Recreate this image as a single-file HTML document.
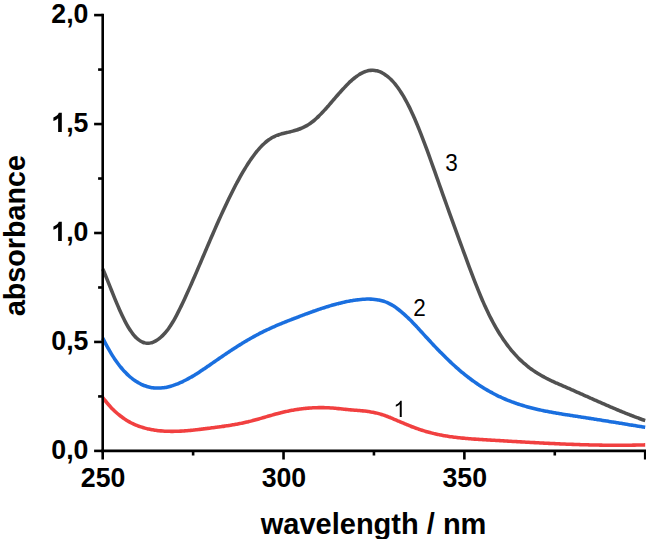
<!DOCTYPE html>
<html><head><meta charset="utf-8"><style>
html,body{margin:0;padding:0;background:#fff;overflow:hidden}
svg{display:block}
text{font-family:"Liberation Sans",sans-serif;fill:#000}
.b{font-weight:bold;font-size:26.7px}
.t{font-weight:bold;font-size:29px}
.ty{font-weight:bold;font-size:28.7px}
.n{font-size:22.5px}
</style></head><body>
<svg width="646" height="539" viewBox="0 0 646 539">
<rect width="646" height="539" fill="#fff"/>
<path d="M102.80,269.04 C103.13,269.83 104.13,272.19 104.80,273.79 C105.47,275.40 106.13,277.03 106.80,278.67 C107.47,280.31 108.13,281.97 108.80,283.63 C109.47,285.29 110.13,286.97 110.80,288.63 C111.47,290.29 112.13,291.96 112.80,293.61 C113.47,295.27 114.13,296.92 114.80,298.55 C115.47,300.17 116.13,301.79 116.80,303.38 C117.47,304.97 118.13,306.54 118.80,308.07 C119.47,309.60 120.13,311.11 120.80,312.57 C121.47,314.03 122.13,315.46 122.80,316.84 C123.47,318.22 124.13,319.56 124.80,320.84 C125.47,322.13 126.13,323.37 126.80,324.56 C127.47,325.75 128.13,326.89 128.80,327.97 C129.47,329.06 130.13,330.09 130.80,331.07 C131.47,332.04 132.13,332.96 132.80,333.82 C133.47,334.69 134.13,335.49 134.80,336.23 C135.47,336.97 136.13,337.65 136.80,338.27 C137.47,338.89 138.13,339.45 138.80,339.94 C139.47,340.44 140.13,340.88 140.80,341.26 C141.47,341.64 142.13,341.97 142.80,342.24 C143.47,342.50 144.13,342.71 144.80,342.87 C145.47,343.03 146.13,343.14 146.80,343.19 C147.47,343.24 148.13,343.24 148.80,343.19 C149.47,343.14 150.13,343.04 150.80,342.89 C151.47,342.75 152.13,342.55 152.80,342.31 C153.47,342.06 154.13,341.77 154.80,341.44 C155.47,341.10 156.13,340.72 156.80,340.30 C157.47,339.88 158.13,339.41 158.80,338.90 C159.47,338.40 160.13,337.85 160.80,337.26 C161.47,336.68 162.13,336.05 162.80,335.38 C163.47,334.71 164.13,334.01 164.80,333.25 C165.47,332.50 166.13,331.71 166.80,330.87 C167.47,330.03 168.13,329.14 168.80,328.21 C169.47,327.27 170.13,326.29 170.80,325.26 C171.47,324.23 172.13,323.15 172.80,322.03 C173.47,320.91 174.13,319.74 174.80,318.54 C175.47,317.33 176.13,316.09 176.80,314.82 C177.47,313.54 178.13,312.24 178.80,310.91 C179.47,309.58 180.13,308.22 180.80,306.85 C181.47,305.47 182.13,304.08 182.80,302.67 C183.47,301.26 184.13,299.84 184.80,298.40 C185.47,296.96 186.13,295.51 186.80,294.05 C187.47,292.58 188.13,291.10 188.80,289.62 C189.47,288.13 190.13,286.63 190.80,285.12 C191.47,283.61 192.13,282.10 192.80,280.57 C193.47,279.05 194.13,277.51 194.80,275.97 C195.47,274.43 196.13,272.88 196.80,271.33 C197.47,269.78 198.13,268.23 198.80,266.67 C199.47,265.11 200.13,263.54 200.80,261.98 C201.47,260.41 202.13,258.85 202.80,257.28 C203.47,255.71 204.13,254.14 204.80,252.58 C205.47,251.01 206.13,249.45 206.80,247.88 C207.47,246.32 208.13,244.76 208.80,243.21 C209.47,241.65 210.13,240.10 210.80,238.55 C211.47,237.01 212.13,235.47 212.80,233.93 C213.47,232.40 214.13,230.87 214.80,229.35 C215.47,227.83 216.13,226.31 216.80,224.81 C217.47,223.30 218.13,221.81 218.80,220.32 C219.47,218.83 220.13,217.35 220.80,215.88 C221.47,214.41 222.13,212.95 222.80,211.51 C223.47,210.06 224.13,208.62 224.80,207.19 C225.47,205.77 226.13,204.35 226.80,202.95 C227.47,201.55 228.13,200.16 228.80,198.79 C229.47,197.41 230.13,196.05 230.80,194.70 C231.47,193.36 232.13,192.02 232.80,190.71 C233.47,189.39 234.13,188.09 234.80,186.80 C235.47,185.51 236.13,184.24 236.80,182.99 C237.47,181.74 238.13,180.50 238.80,179.29 C239.47,178.07 240.13,176.87 240.80,175.69 C241.47,174.51 242.13,173.35 242.80,172.21 C243.47,171.07 244.13,169.95 244.80,168.84 C245.47,167.74 246.13,166.66 246.80,165.61 C247.47,164.55 248.13,163.51 248.80,162.50 C249.47,161.48 250.13,160.49 250.80,159.52 C251.47,158.55 252.13,157.61 252.80,156.69 C253.47,155.77 254.13,154.87 254.80,154.00 C255.47,153.13 256.13,152.29 256.80,151.47 C257.47,150.65 258.13,149.86 258.80,149.09 C259.47,148.32 260.13,147.58 260.80,146.87 C261.47,146.16 262.13,145.48 262.80,144.83 C263.47,144.17 264.13,143.55 264.80,142.95 C265.47,142.36 266.13,141.79 266.80,141.26 C267.47,140.72 268.13,140.22 268.80,139.74 C269.47,139.27 270.13,138.83 270.80,138.42 C271.47,138.01 272.13,137.63 272.80,137.28 C273.47,136.93 274.13,136.61 274.80,136.30 C275.47,136.00 276.13,135.72 276.80,135.46 C277.47,135.20 278.13,134.97 278.80,134.74 C279.47,134.52 280.13,134.31 280.80,134.12 C281.47,133.92 282.13,133.74 282.80,133.56 C283.47,133.39 284.13,133.22 284.80,133.06 C285.47,132.90 286.13,132.74 286.80,132.59 C287.47,132.43 288.13,132.28 288.80,132.12 C289.47,131.96 290.13,131.80 290.80,131.63 C291.47,131.47 292.13,131.30 292.80,131.12 C293.47,130.94 294.13,130.76 294.80,130.56 C295.47,130.37 296.13,130.16 296.80,129.95 C297.47,129.73 298.13,129.50 298.80,129.26 C299.47,129.02 300.13,128.77 300.80,128.50 C301.47,128.23 302.13,127.94 302.80,127.64 C303.47,127.33 304.13,127.01 304.80,126.67 C305.47,126.33 306.13,125.97 306.80,125.59 C307.47,125.20 308.13,124.80 308.80,124.37 C309.47,123.94 310.13,123.49 310.80,123.01 C311.47,122.53 312.13,122.02 312.80,121.49 C313.47,120.96 314.13,120.41 314.80,119.83 C315.47,119.26 316.13,118.66 316.80,118.04 C317.47,117.42 318.13,116.78 318.80,116.13 C319.47,115.48 320.13,114.81 320.80,114.12 C321.47,113.43 322.13,112.73 322.80,112.02 C323.47,111.31 324.13,110.58 324.80,109.84 C325.47,109.11 326.13,108.36 326.80,107.61 C327.47,106.86 328.13,106.09 328.80,105.33 C329.47,104.56 330.13,103.79 330.80,103.02 C331.47,102.24 332.13,101.46 332.80,100.69 C333.47,99.91 334.13,99.13 334.80,98.35 C335.47,97.58 336.13,96.80 336.80,96.03 C337.47,95.26 338.13,94.49 338.80,93.73 C339.47,92.97 340.13,92.21 340.80,91.47 C341.47,90.72 342.13,89.99 342.80,89.26 C343.47,88.54 344.13,87.82 344.80,87.12 C345.47,86.42 346.13,85.72 346.80,85.05 C347.47,84.37 348.13,83.71 348.80,83.07 C349.47,82.42 350.13,81.79 350.80,81.18 C351.47,80.58 352.13,79.98 352.80,79.41 C353.47,78.84 354.13,78.29 354.80,77.76 C355.47,77.24 356.13,76.73 356.80,76.25 C357.47,75.77 358.13,75.31 358.80,74.88 C359.47,74.45 360.13,74.04 360.80,73.67 C361.47,73.29 362.13,72.94 362.80,72.62 C363.47,72.30 364.13,72.01 364.80,71.76 C365.47,71.50 366.13,71.28 366.80,71.09 C367.47,70.90 368.13,70.74 368.80,70.62 C369.47,70.50 370.13,70.41 370.80,70.36 C371.47,70.31 372.13,70.29 372.80,70.31 C373.47,70.33 374.13,70.38 374.80,70.47 C375.47,70.55 376.13,70.67 376.80,70.83 C377.47,70.99 378.13,71.18 378.80,71.41 C379.47,71.63 380.13,71.90 380.80,72.19 C381.47,72.49 382.13,72.82 382.80,73.19 C383.47,73.56 384.13,73.97 384.80,74.41 C385.47,74.85 386.13,75.32 386.80,75.83 C387.47,76.34 388.13,76.89 388.80,77.48 C389.47,78.06 390.13,78.68 390.80,79.34 C391.47,79.99 392.13,80.69 392.80,81.42 C393.47,82.15 394.13,82.91 394.80,83.72 C395.47,84.52 396.13,85.36 396.80,86.24 C397.47,87.12 398.13,88.03 398.80,88.98 C399.47,89.93 400.13,90.92 400.80,91.95 C401.47,92.98 402.13,94.04 402.80,95.14 C403.47,96.24 404.13,97.38 404.80,98.56 C405.47,99.74 406.13,100.95 406.80,102.21 C407.47,103.46 408.13,104.75 408.80,106.08 C409.47,107.41 410.13,108.78 410.80,110.19 C411.47,111.59 412.13,113.04 412.80,114.51 C413.47,115.99 414.13,117.50 414.80,119.04 C415.47,120.58 416.13,122.15 416.80,123.75 C417.47,125.34 418.13,126.97 418.80,128.62 C419.47,130.27 420.13,131.95 420.80,133.65 C421.47,135.35 422.13,137.07 422.80,138.81 C423.47,140.55 424.13,142.31 424.80,144.09 C425.47,145.87 426.13,147.66 426.80,149.47 C427.47,151.28 428.13,153.10 428.80,154.94 C429.47,156.77 430.13,158.62 430.80,160.48 C431.47,162.33 432.13,164.20 432.80,166.07 C433.47,167.94 434.13,169.82 434.80,171.70 C435.47,173.58 436.13,175.47 436.80,177.36 C437.47,179.25 438.13,181.14 438.80,183.03 C439.47,184.91 440.13,186.80 440.80,188.68 C441.47,190.57 442.13,192.45 442.80,194.32 C443.47,196.20 444.13,198.06 444.80,199.93 C445.47,201.79 446.13,203.65 446.80,205.50 C447.47,207.36 448.13,209.21 448.80,211.06 C449.47,212.90 450.13,214.75 450.80,216.59 C451.47,218.43 452.13,220.26 452.80,222.10 C453.47,223.93 454.13,225.77 454.80,227.60 C455.47,229.43 456.13,231.25 456.80,233.08 C457.47,234.91 458.13,236.73 458.80,238.56 C459.47,240.38 460.13,242.21 460.80,244.03 C461.47,245.85 462.13,247.68 462.80,249.50 C463.47,251.32 464.13,253.15 464.80,254.96 C465.47,256.78 466.13,258.60 466.80,260.40 C467.47,262.21 468.13,264.02 468.80,265.81 C469.47,267.60 470.13,269.39 470.80,271.16 C471.47,272.93 472.13,274.69 472.80,276.44 C473.47,278.18 474.13,279.92 474.80,281.63 C475.47,283.34 476.13,285.04 476.80,286.72 C477.47,288.39 478.13,290.05 478.80,291.68 C479.47,293.32 480.13,294.93 480.80,296.51 C481.47,298.10 482.13,299.66 482.80,301.19 C483.47,302.72 484.13,304.23 484.80,305.70 C485.47,307.17 486.13,308.62 486.80,310.03 C487.47,311.44 488.13,312.83 488.80,314.18 C489.47,315.54 490.13,316.86 490.80,318.16 C491.47,319.46 492.13,320.73 492.80,321.98 C493.47,323.22 494.13,324.43 494.80,325.63 C495.47,326.82 496.13,327.98 496.80,329.12 C497.47,330.25 498.13,331.37 498.80,332.45 C499.47,333.54 500.13,334.60 500.80,335.64 C501.47,336.68 502.13,337.69 502.80,338.69 C503.47,339.68 504.13,340.64 504.80,341.59 C505.47,342.54 506.13,343.46 506.80,344.36 C507.47,345.26 508.13,346.14 508.80,347.00 C509.47,347.86 510.13,348.69 510.80,349.51 C511.47,350.33 512.13,351.12 512.80,351.90 C513.47,352.68 514.13,353.44 514.80,354.18 C515.47,354.92 516.13,355.64 516.80,356.34 C517.47,357.04 518.13,357.73 518.80,358.40 C519.47,359.06 520.13,359.71 520.80,360.35 C521.47,360.98 522.13,361.60 522.80,362.20 C523.47,362.81 524.13,363.39 524.80,363.96 C525.47,364.54 526.13,365.09 526.80,365.64 C527.47,366.18 528.13,366.71 528.80,367.23 C529.47,367.74 530.13,368.25 530.80,368.74 C531.47,369.23 532.13,369.70 532.80,370.17 C533.47,370.64 534.13,371.09 534.80,371.53 C535.47,371.98 536.13,372.41 536.80,372.83 C537.47,373.26 538.13,373.67 538.80,374.07 C539.47,374.47 540.13,374.87 540.80,375.25 C541.47,375.64 542.13,376.01 542.80,376.38 C543.47,376.75 544.13,377.11 544.80,377.46 C545.47,377.82 546.13,378.16 546.80,378.51 C547.47,378.85 548.13,379.18 548.80,379.51 C549.47,379.84 550.13,380.16 550.80,380.48 C551.47,380.80 552.13,381.11 552.80,381.42 C553.47,381.73 554.13,382.03 554.80,382.34 C555.47,382.64 556.13,382.94 556.80,383.23 C557.47,383.53 558.13,383.82 558.80,384.12 C559.47,384.41 560.13,384.70 560.80,384.99 C561.47,385.28 562.13,385.57 562.80,385.86 C563.47,386.15 564.13,386.44 564.80,386.73 C565.47,387.02 566.13,387.31 566.80,387.60 C567.47,387.89 568.13,388.18 568.80,388.47 C569.47,388.77 570.13,389.06 570.80,389.35 C571.47,389.65 572.13,389.94 572.80,390.24 C573.47,390.53 574.13,390.83 574.80,391.12 C575.47,391.42 576.13,391.71 576.80,392.01 C577.47,392.30 578.13,392.60 578.80,392.90 C579.47,393.19 580.13,393.49 580.80,393.79 C581.47,394.09 582.13,394.38 582.80,394.68 C583.47,394.98 584.13,395.28 584.80,395.57 C585.47,395.87 586.13,396.17 586.80,396.47 C587.47,396.76 588.13,397.06 588.80,397.36 C589.47,397.65 590.13,397.95 590.80,398.25 C591.47,398.55 592.13,398.84 592.80,399.14 C593.47,399.44 594.13,399.73 594.80,400.03 C595.47,400.32 596.13,400.62 596.80,400.91 C597.47,401.21 598.13,401.50 598.80,401.80 C599.47,402.09 600.13,402.39 600.80,402.68 C601.47,402.97 602.13,403.27 602.80,403.56 C603.47,403.85 604.13,404.14 604.80,404.43 C605.47,404.72 606.13,405.01 606.80,405.30 C607.47,405.59 608.13,405.88 608.80,406.17 C609.47,406.46 610.13,406.74 610.80,407.03 C611.47,407.31 612.13,407.60 612.80,407.88 C613.47,408.17 614.13,408.45 614.80,408.73 C615.47,409.01 616.13,409.29 616.80,409.57 C617.47,409.85 618.13,410.13 618.80,410.41 C619.47,410.69 620.13,410.96 620.80,411.24 C621.47,411.51 622.13,411.79 622.80,412.06 C623.47,412.33 624.13,412.60 624.80,412.87 C625.47,413.14 626.13,413.41 626.80,413.68 C627.47,413.94 628.13,414.21 628.80,414.47 C629.47,414.73 630.13,415.00 630.80,415.26 C631.47,415.52 632.13,415.77 632.80,416.03 C633.47,416.29 634.13,416.54 634.80,416.80 C635.47,417.05 636.13,417.30 636.80,417.55 C637.47,417.80 638.13,418.05 638.80,418.29 C639.47,418.54 640.13,418.78 640.80,419.02 C641.47,419.27 642.13,419.51 642.80,419.74 C643.47,419.98 644.40,420.31 644.80,420.45 C645.20,420.59 645.13,420.57 645.20,420.59" fill="none" stroke="#515151" stroke-width="3.55" stroke-linejoin="round"/>
<path d="M102.80,338.13 C103.13,338.79 104.13,340.81 104.80,342.10 C105.47,343.40 106.13,344.66 106.80,345.89 C107.47,347.11 108.13,348.31 108.80,349.48 C109.47,350.64 110.13,351.78 110.80,352.88 C111.47,353.99 112.13,355.06 112.80,356.11 C113.47,357.15 114.13,358.17 114.80,359.15 C115.47,360.14 116.13,361.10 116.80,362.02 C117.47,362.95 118.13,363.85 118.80,364.72 C119.47,365.59 120.13,366.44 120.80,367.25 C121.47,368.07 122.13,368.86 122.80,369.62 C123.47,370.38 124.13,371.11 124.80,371.82 C125.47,372.53 126.13,373.21 126.80,373.87 C127.47,374.53 128.13,375.16 128.80,375.76 C129.47,376.37 130.13,376.95 130.80,377.50 C131.47,378.06 132.13,378.59 132.80,379.10 C133.47,379.61 134.13,380.09 134.80,380.55 C135.47,381.01 136.13,381.45 136.80,381.86 C137.47,382.28 138.13,382.67 138.80,383.04 C139.47,383.41 140.13,383.76 140.80,384.08 C141.47,384.41 142.13,384.71 142.80,384.99 C143.47,385.28 144.13,385.54 144.80,385.78 C145.47,386.02 146.13,386.24 146.80,386.45 C147.47,386.65 148.13,386.83 148.80,386.99 C149.47,387.16 150.13,387.30 150.80,387.42 C151.47,387.55 152.13,387.65 152.80,387.74 C153.47,387.83 154.13,387.90 154.80,387.95 C155.47,388.01 156.13,388.04 156.80,388.06 C157.47,388.08 158.13,388.08 158.80,388.07 C159.47,388.05 160.13,388.02 160.80,387.97 C161.47,387.93 162.13,387.86 162.80,387.79 C163.47,387.71 164.13,387.62 164.80,387.51 C165.47,387.40 166.13,387.28 166.80,387.15 C167.47,387.01 168.13,386.86 168.80,386.70 C169.47,386.54 170.13,386.36 170.80,386.17 C171.47,385.98 172.13,385.78 172.80,385.57 C173.47,385.35 174.13,385.13 174.80,384.89 C175.47,384.65 176.13,384.41 176.80,384.15 C177.47,383.89 178.13,383.62 178.80,383.33 C179.47,383.05 180.13,382.76 180.80,382.46 C181.47,382.16 182.13,381.85 182.80,381.53 C183.47,381.21 184.13,380.88 184.80,380.54 C185.47,380.20 186.13,379.86 186.80,379.50 C187.47,379.15 188.13,378.78 188.80,378.41 C189.47,378.04 190.13,377.67 190.80,377.28 C191.47,376.90 192.13,376.51 192.80,376.11 C193.47,375.71 194.13,375.31 194.80,374.90 C195.47,374.49 196.13,374.07 196.80,373.65 C197.47,373.23 198.13,372.81 198.80,372.38 C199.47,371.95 200.13,371.51 200.80,371.08 C201.47,370.64 202.13,370.20 202.80,369.75 C203.47,369.31 204.13,368.86 204.80,368.41 C205.47,367.96 206.13,367.50 206.80,367.04 C207.47,366.59 208.13,366.13 208.80,365.67 C209.47,365.21 210.13,364.75 210.80,364.29 C211.47,363.82 212.13,363.36 212.80,362.90 C213.47,362.43 214.13,361.97 214.80,361.51 C215.47,361.04 216.13,360.58 216.80,360.12 C217.47,359.65 218.13,359.19 218.80,358.73 C219.47,358.27 220.13,357.81 220.80,357.35 C221.47,356.90 222.13,356.44 222.80,355.99 C223.47,355.53 224.13,355.08 224.80,354.63 C225.47,354.18 226.13,353.73 226.80,353.28 C227.47,352.84 228.13,352.39 228.80,351.95 C229.47,351.51 230.13,351.07 230.80,350.63 C231.47,350.19 232.13,349.76 232.80,349.32 C233.47,348.89 234.13,348.46 234.80,348.03 C235.47,347.61 236.13,347.18 236.80,346.76 C237.47,346.33 238.13,345.91 238.80,345.50 C239.47,345.08 240.13,344.67 240.80,344.25 C241.47,343.84 242.13,343.43 242.80,343.03 C243.47,342.62 244.13,342.22 244.80,341.82 C245.47,341.42 246.13,341.03 246.80,340.63 C247.47,340.24 248.13,339.85 248.80,339.47 C249.47,339.08 250.13,338.70 250.80,338.32 C251.47,337.94 252.13,337.56 252.80,337.19 C253.47,336.82 254.13,336.45 254.80,336.09 C255.47,335.73 256.13,335.37 256.80,335.01 C257.47,334.66 258.13,334.30 258.80,333.96 C259.47,333.61 260.13,333.26 260.80,332.92 C261.47,332.58 262.13,332.25 262.80,331.92 C263.47,331.59 264.13,331.26 264.80,330.94 C265.47,330.61 266.13,330.29 266.80,329.97 C267.47,329.66 268.13,329.35 268.80,329.04 C269.47,328.73 270.13,328.42 270.80,328.12 C271.47,327.81 272.13,327.51 272.80,327.22 C273.47,326.92 274.13,326.63 274.80,326.33 C275.47,326.04 276.13,325.75 276.80,325.47 C277.47,325.18 278.13,324.90 278.80,324.62 C279.47,324.34 280.13,324.06 280.80,323.78 C281.47,323.51 282.13,323.23 282.80,322.96 C283.47,322.69 284.13,322.42 284.80,322.15 C285.47,321.88 286.13,321.62 286.80,321.35 C287.47,321.09 288.13,320.82 288.80,320.56 C289.47,320.30 290.13,320.04 290.80,319.78 C291.47,319.52 292.13,319.26 292.80,319.01 C293.47,318.75 294.13,318.49 294.80,318.24 C295.47,317.98 296.13,317.73 296.80,317.48 C297.47,317.22 298.13,316.97 298.80,316.72 C299.47,316.47 300.13,316.22 300.80,315.96 C301.47,315.71 302.13,315.46 302.80,315.21 C303.47,314.96 304.13,314.71 304.80,314.46 C305.47,314.22 306.13,313.97 306.80,313.72 C307.47,313.47 308.13,313.23 308.80,312.98 C309.47,312.74 310.13,312.50 310.80,312.26 C311.47,312.01 312.13,311.77 312.80,311.53 C313.47,311.30 314.13,311.06 314.80,310.82 C315.47,310.59 316.13,310.35 316.80,310.12 C317.47,309.89 318.13,309.66 318.80,309.43 C319.47,309.20 320.13,308.98 320.80,308.75 C321.47,308.53 322.13,308.31 322.80,308.09 C323.47,307.87 324.13,307.65 324.80,307.44 C325.47,307.23 326.13,307.02 326.80,306.81 C327.47,306.60 328.13,306.39 328.80,306.19 C329.47,305.99 330.13,305.79 330.80,305.59 C331.47,305.40 332.13,305.20 332.80,305.01 C333.47,304.82 334.13,304.64 334.80,304.45 C335.47,304.27 336.13,304.09 336.80,303.91 C337.47,303.74 338.13,303.56 338.80,303.40 C339.47,303.23 340.13,303.06 340.80,302.90 C341.47,302.74 342.13,302.59 342.80,302.43 C343.47,302.28 344.13,302.13 344.80,301.99 C345.47,301.85 346.13,301.71 346.80,301.57 C347.47,301.44 348.13,301.31 348.80,301.18 C349.47,301.05 350.13,300.93 350.80,300.82 C351.47,300.70 352.13,300.59 352.80,300.49 C353.47,300.38 354.13,300.28 354.80,300.18 C355.47,300.09 356.13,300.00 356.80,299.91 C357.47,299.83 358.13,299.75 358.80,299.68 C359.47,299.60 360.13,299.53 360.80,299.47 C361.47,299.41 362.13,299.35 362.80,299.30 C363.47,299.26 364.13,299.21 364.80,299.18 C365.47,299.14 366.13,299.12 366.80,299.10 C367.47,299.09 368.13,299.08 368.80,299.08 C369.47,299.08 370.13,299.10 370.80,299.12 C371.47,299.15 372.13,299.18 372.80,299.23 C373.47,299.28 374.13,299.34 374.80,299.42 C375.47,299.49 376.13,299.58 376.80,299.68 C377.47,299.79 378.13,299.90 378.80,300.04 C379.47,300.17 380.13,300.32 380.80,300.49 C381.47,300.66 382.13,300.84 382.80,301.04 C383.47,301.24 384.13,301.46 384.80,301.70 C385.47,301.94 386.13,302.20 386.80,302.48 C387.47,302.76 388.13,303.05 388.80,303.38 C389.47,303.70 390.13,304.04 390.80,304.40 C391.47,304.76 392.13,305.15 392.80,305.56 C393.47,305.96 394.13,306.39 394.80,306.84 C395.47,307.28 396.13,307.75 396.80,308.24 C397.47,308.72 398.13,309.22 398.80,309.74 C399.47,310.26 400.13,310.80 400.80,311.35 C401.47,311.90 402.13,312.47 402.80,313.05 C403.47,313.63 404.13,314.22 404.80,314.83 C405.47,315.44 406.13,316.06 406.80,316.69 C407.47,317.32 408.13,317.97 408.80,318.62 C409.47,319.27 410.13,319.94 410.80,320.61 C411.47,321.28 412.13,321.97 412.80,322.65 C413.47,323.34 414.13,324.04 414.80,324.74 C415.47,325.44 416.13,326.15 416.80,326.87 C417.47,327.58 418.13,328.30 418.80,329.02 C419.47,329.74 420.13,330.47 420.80,331.19 C421.47,331.92 422.13,332.65 422.80,333.38 C423.47,334.11 424.13,334.84 424.80,335.58 C425.47,336.31 426.13,337.04 426.80,337.77 C427.47,338.50 428.13,339.23 428.80,339.95 C429.47,340.67 430.13,341.40 430.80,342.11 C431.47,342.83 432.13,343.55 432.80,344.26 C433.47,344.97 434.13,345.67 434.80,346.37 C435.47,347.08 436.13,347.77 436.80,348.47 C437.47,349.16 438.13,349.85 438.80,350.53 C439.47,351.22 440.13,351.90 440.80,352.58 C441.47,353.25 442.13,353.92 442.80,354.59 C443.47,355.25 444.13,355.91 444.80,356.57 C445.47,357.23 446.13,357.88 446.80,358.52 C447.47,359.17 448.13,359.81 448.80,360.45 C449.47,361.08 450.13,361.71 450.80,362.34 C451.47,362.96 452.13,363.58 452.80,364.19 C453.47,364.81 454.13,365.42 454.80,366.02 C455.47,366.62 456.13,367.22 456.80,367.81 C457.47,368.40 458.13,368.98 458.80,369.56 C459.47,370.14 460.13,370.71 460.80,371.27 C461.47,371.84 462.13,372.40 462.80,372.95 C463.47,373.50 464.13,374.05 464.80,374.59 C465.47,375.13 466.13,375.66 466.80,376.19 C467.47,376.71 468.13,377.23 468.80,377.74 C469.47,378.25 470.13,378.76 470.80,379.26 C471.47,379.75 472.13,380.24 472.80,380.73 C473.47,381.21 474.13,381.69 474.80,382.16 C475.47,382.63 476.13,383.09 476.80,383.55 C477.47,384.00 478.13,384.45 478.80,384.90 C479.47,385.34 480.13,385.78 480.80,386.20 C481.47,386.63 482.13,387.06 482.80,387.47 C483.47,387.89 484.13,388.30 484.80,388.71 C485.47,389.11 486.13,389.51 486.80,389.90 C487.47,390.29 488.13,390.67 488.80,391.05 C489.47,391.43 490.13,391.80 490.80,392.17 C491.47,392.54 492.13,392.90 492.80,393.25 C493.47,393.60 494.13,393.95 494.80,394.29 C495.47,394.64 496.13,394.97 496.80,395.30 C497.47,395.63 498.13,395.96 498.80,396.28 C499.47,396.59 500.13,396.91 500.80,397.21 C501.47,397.52 502.13,397.82 502.80,398.12 C503.47,398.42 504.13,398.71 504.80,398.99 C505.47,399.28 506.13,399.56 506.80,399.83 C507.47,400.11 508.13,400.38 508.80,400.64 C509.47,400.91 510.13,401.16 510.80,401.42 C511.47,401.67 512.13,401.92 512.80,402.17 C513.47,402.41 514.13,402.65 514.80,402.89 C515.47,403.13 516.13,403.36 516.80,403.58 C517.47,403.81 518.13,404.03 518.80,404.25 C519.47,404.47 520.13,404.68 520.80,404.89 C521.47,405.10 522.13,405.31 522.80,405.51 C523.47,405.71 524.13,405.91 524.80,406.11 C525.47,406.30 526.13,406.49 526.80,406.68 C527.47,406.86 528.13,407.05 528.80,407.23 C529.47,407.41 530.13,407.58 530.80,407.76 C531.47,407.93 532.13,408.10 532.80,408.27 C533.47,408.43 534.13,408.60 534.80,408.76 C535.47,408.92 536.13,409.07 536.80,409.23 C537.47,409.38 538.13,409.53 538.80,409.68 C539.47,409.83 540.13,409.98 540.80,410.12 C541.47,410.27 542.13,410.41 542.80,410.55 C543.47,410.68 544.13,410.82 544.80,410.96 C545.47,411.09 546.13,411.22 546.80,411.35 C547.47,411.48 548.13,411.61 548.80,411.74 C549.47,411.86 550.13,411.99 550.80,412.11 C551.47,412.23 552.13,412.35 552.80,412.47 C553.47,412.59 554.13,412.71 554.80,412.82 C555.47,412.94 556.13,413.05 556.80,413.17 C557.47,413.28 558.13,413.39 558.80,413.50 C559.47,413.62 560.13,413.72 560.80,413.83 C561.47,413.94 562.13,414.05 562.80,414.16 C563.47,414.26 564.13,414.37 564.80,414.48 C565.47,414.58 566.13,414.69 566.80,414.79 C567.47,414.90 568.13,415.00 568.80,415.10 C569.47,415.21 570.13,415.31 570.80,415.41 C571.47,415.52 572.13,415.62 572.80,415.72 C573.47,415.83 574.13,415.93 574.80,416.03 C575.47,416.13 576.13,416.24 576.80,416.34 C577.47,416.44 578.13,416.55 578.80,416.65 C579.47,416.76 580.13,416.86 580.80,416.96 C581.47,417.07 582.13,417.17 582.80,417.27 C583.47,417.38 584.13,417.48 584.80,417.59 C585.47,417.69 586.13,417.80 586.80,417.90 C587.47,418.01 588.13,418.11 588.80,418.22 C589.47,418.32 590.13,418.43 590.80,418.53 C591.47,418.64 592.13,418.74 592.80,418.85 C593.47,418.95 594.13,419.06 594.80,419.16 C595.47,419.27 596.13,419.37 596.80,419.48 C597.47,419.59 598.13,419.69 598.80,419.80 C599.47,419.90 600.13,420.01 600.80,420.12 C601.47,420.22 602.13,420.33 602.80,420.44 C603.47,420.54 604.13,420.65 604.80,420.76 C605.47,420.86 606.13,420.97 606.80,421.08 C607.47,421.18 608.13,421.29 608.80,421.40 C609.47,421.50 610.13,421.61 610.80,421.72 C611.47,421.83 612.13,421.93 612.80,422.04 C613.47,422.15 614.13,422.26 614.80,422.36 C615.47,422.47 616.13,422.58 616.80,422.69 C617.47,422.80 618.13,422.90 618.80,423.01 C619.47,423.12 620.13,423.23 620.80,423.34 C621.47,423.44 622.13,423.55 622.80,423.66 C623.47,423.77 624.13,423.88 624.80,423.99 C625.47,424.09 626.13,424.20 626.80,424.31 C627.47,424.42 628.13,424.53 628.80,424.64 C629.47,424.75 630.13,424.86 630.80,424.96 C631.47,425.07 632.13,425.18 632.80,425.29 C633.47,425.40 634.13,425.51 634.80,425.62 C635.47,425.73 636.13,425.84 636.80,425.95 C637.47,426.06 638.13,426.17 638.80,426.27 C639.47,426.38 640.13,426.49 640.80,426.60 C641.47,426.71 642.13,426.82 642.80,426.93 C643.47,427.04 644.40,427.20 644.80,427.26 C645.20,427.33 645.13,427.32 645.20,427.33" fill="none" stroke="#1A6FDF" stroke-width="3.55" stroke-linejoin="round"/>
<path d="M102.80,397.58 C103.13,398.02 104.13,399.34 104.80,400.19 C105.47,401.03 106.13,401.85 106.80,402.65 C107.47,403.44 108.13,404.22 108.80,404.97 C109.47,405.72 110.13,406.46 110.80,407.16 C111.47,407.87 112.13,408.56 112.80,409.23 C113.47,409.90 114.13,410.54 114.80,411.17 C115.47,411.79 116.13,412.40 116.80,412.99 C117.47,413.57 118.13,414.14 118.80,414.69 C119.47,415.24 120.13,415.77 120.80,416.28 C121.47,416.79 122.13,417.29 122.80,417.77 C123.47,418.24 124.13,418.70 124.80,419.14 C125.47,419.59 126.13,420.01 126.80,420.42 C127.47,420.84 128.13,421.23 128.80,421.61 C129.47,421.99 130.13,422.35 130.80,422.70 C131.47,423.05 132.13,423.39 132.80,423.71 C133.47,424.03 134.13,424.33 134.80,424.63 C135.47,424.92 136.13,425.20 136.80,425.47 C137.47,425.74 138.13,426.00 138.80,426.24 C139.47,426.48 140.13,426.71 140.80,426.94 C141.47,427.16 142.13,427.37 142.80,427.57 C143.47,427.77 144.13,427.95 144.80,428.13 C145.47,428.31 146.13,428.48 146.80,428.64 C147.47,428.80 148.13,428.95 148.80,429.10 C149.47,429.24 150.13,429.37 150.80,429.50 C151.47,429.63 152.13,429.74 152.80,429.86 C153.47,429.97 154.13,430.07 154.80,430.17 C155.47,430.27 156.13,430.36 156.80,430.45 C157.47,430.53 158.13,430.61 158.80,430.68 C159.47,430.75 160.13,430.82 160.80,430.88 C161.47,430.94 162.13,430.99 162.80,431.04 C163.47,431.09 164.13,431.13 164.80,431.17 C165.47,431.21 166.13,431.24 166.80,431.26 C167.47,431.29 168.13,431.31 168.80,431.33 C169.47,431.34 170.13,431.35 170.80,431.36 C171.47,431.36 172.13,431.37 172.80,431.36 C173.47,431.36 174.13,431.35 174.80,431.34 C175.47,431.33 176.13,431.31 176.80,431.29 C177.47,431.27 178.13,431.25 178.80,431.22 C179.47,431.19 180.13,431.16 180.80,431.12 C181.47,431.09 182.13,431.05 182.80,431.01 C183.47,430.96 184.13,430.92 184.80,430.87 C185.47,430.82 186.13,430.77 186.80,430.72 C187.47,430.66 188.13,430.60 188.80,430.55 C189.47,430.49 190.13,430.42 190.80,430.36 C191.47,430.29 192.13,430.23 192.80,430.16 C193.47,430.09 194.13,430.02 194.80,429.95 C195.47,429.87 196.13,429.80 196.80,429.72 C197.47,429.65 198.13,429.57 198.80,429.49 C199.47,429.41 200.13,429.33 200.80,429.25 C201.47,429.17 202.13,429.09 202.80,429.00 C203.47,428.92 204.13,428.84 204.80,428.75 C205.47,428.67 206.13,428.58 206.80,428.50 C207.47,428.41 208.13,428.33 208.80,428.24 C209.47,428.16 210.13,428.07 210.80,427.98 C211.47,427.90 212.13,427.81 212.80,427.73 C213.47,427.64 214.13,427.55 214.80,427.47 C215.47,427.38 216.13,427.29 216.80,427.20 C217.47,427.11 218.13,427.03 218.80,426.94 C219.47,426.85 220.13,426.75 220.80,426.66 C221.47,426.57 222.13,426.48 222.80,426.38 C223.47,426.29 224.13,426.19 224.80,426.09 C225.47,426.00 226.13,425.90 226.80,425.80 C227.47,425.70 228.13,425.59 228.80,425.49 C229.47,425.39 230.13,425.28 230.80,425.17 C231.47,425.06 232.13,424.95 232.80,424.84 C233.47,424.73 234.13,424.61 234.80,424.50 C235.47,424.38 236.13,424.26 236.80,424.14 C237.47,424.01 238.13,423.89 238.80,423.76 C239.47,423.63 240.13,423.50 240.80,423.37 C241.47,423.23 242.13,423.10 242.80,422.96 C243.47,422.82 244.13,422.67 244.80,422.53 C245.47,422.38 246.13,422.23 246.80,422.07 C247.47,421.92 248.13,421.76 248.80,421.60 C249.47,421.44 250.13,421.27 250.80,421.11 C251.47,420.94 252.13,420.76 252.80,420.59 C253.47,420.41 254.13,420.23 254.80,420.05 C255.47,419.87 256.13,419.69 256.80,419.50 C257.47,419.31 258.13,419.13 258.80,418.94 C259.47,418.75 260.13,418.55 260.80,418.36 C261.47,418.17 262.13,417.98 262.80,417.78 C263.47,417.59 264.13,417.39 264.80,417.20 C265.47,417.00 266.13,416.81 266.80,416.61 C267.47,416.42 268.13,416.22 268.80,416.03 C269.47,415.84 270.13,415.65 270.80,415.45 C271.47,415.26 272.13,415.07 272.80,414.89 C273.47,414.70 274.13,414.51 274.80,414.33 C275.47,414.15 276.13,413.97 276.80,413.79 C277.47,413.61 278.13,413.43 278.80,413.26 C279.47,413.09 280.13,412.92 280.80,412.76 C281.47,412.59 282.13,412.43 282.80,412.27 C283.47,412.12 284.13,411.96 284.80,411.81 C285.47,411.66 286.13,411.52 286.80,411.38 C287.47,411.23 288.13,411.09 288.80,410.96 C289.47,410.83 290.13,410.69 290.80,410.57 C291.47,410.44 292.13,410.32 292.80,410.20 C293.47,410.08 294.13,409.96 294.80,409.85 C295.47,409.74 296.13,409.63 296.80,409.53 C297.47,409.43 298.13,409.33 298.80,409.23 C299.47,409.14 300.13,409.05 300.80,408.96 C301.47,408.87 302.13,408.79 302.80,408.71 C303.47,408.63 304.13,408.56 304.80,408.48 C305.47,408.41 306.13,408.35 306.80,408.28 C307.47,408.22 308.13,408.16 308.80,408.11 C309.47,408.06 310.13,408.01 310.80,407.96 C311.47,407.92 312.13,407.87 312.80,407.84 C313.47,407.80 314.13,407.77 314.80,407.74 C315.47,407.71 316.13,407.69 316.80,407.67 C317.47,407.65 318.13,407.64 318.80,407.63 C319.47,407.61 320.13,407.61 320.80,407.61 C321.47,407.61 322.13,407.61 322.80,407.62 C323.47,407.62 324.13,407.64 324.80,407.65 C325.47,407.67 326.13,407.69 326.80,407.72 C327.47,407.74 328.13,407.77 328.80,407.81 C329.47,407.84 330.13,407.88 330.80,407.93 C331.47,407.97 332.13,408.02 332.80,408.08 C333.47,408.13 334.13,408.19 334.80,408.25 C335.47,408.31 336.13,408.37 336.80,408.44 C337.47,408.50 338.13,408.57 338.80,408.64 C339.47,408.71 340.13,408.78 340.80,408.85 C341.47,408.92 342.13,409.00 342.80,409.07 C343.47,409.14 344.13,409.21 344.80,409.28 C345.47,409.35 346.13,409.42 346.80,409.49 C347.47,409.56 348.13,409.62 348.80,409.69 C349.47,409.75 350.13,409.81 350.80,409.87 C351.47,409.92 352.13,409.98 352.80,410.03 C353.47,410.09 354.13,410.14 354.80,410.19 C355.47,410.25 356.13,410.30 356.80,410.35 C357.47,410.40 358.13,410.46 358.80,410.51 C359.47,410.57 360.13,410.62 360.80,410.68 C361.47,410.74 362.13,410.80 362.80,410.87 C363.47,410.94 364.13,411.01 364.80,411.08 C365.47,411.15 366.13,411.23 366.80,411.31 C367.47,411.40 368.13,411.49 368.80,411.58 C369.47,411.68 370.13,411.78 370.80,411.89 C371.47,412.00 372.13,412.12 372.80,412.24 C373.47,412.37 374.13,412.50 374.80,412.65 C375.47,412.79 376.13,412.94 376.80,413.11 C377.47,413.27 378.13,413.44 378.80,413.63 C379.47,413.81 380.13,414.01 380.80,414.21 C381.47,414.41 382.13,414.63 382.80,414.85 C383.47,415.07 384.13,415.30 384.80,415.54 C385.47,415.78 386.13,416.02 386.80,416.27 C387.47,416.52 388.13,416.78 388.80,417.04 C389.47,417.31 390.13,417.57 390.80,417.85 C391.47,418.12 392.13,418.39 392.80,418.67 C393.47,418.95 394.13,419.23 394.80,419.52 C395.47,419.80 396.13,420.09 396.80,420.37 C397.47,420.66 398.13,420.95 398.80,421.23 C399.47,421.52 400.13,421.81 400.80,422.09 C401.47,422.38 402.13,422.66 402.80,422.94 C403.47,423.23 404.13,423.51 404.80,423.79 C405.47,424.07 406.13,424.34 406.80,424.62 C407.47,424.89 408.13,425.17 408.80,425.43 C409.47,425.70 410.13,425.97 410.80,426.23 C411.47,426.50 412.13,426.76 412.80,427.01 C413.47,427.27 414.13,427.52 414.80,427.77 C415.47,428.02 416.13,428.27 416.80,428.50 C417.47,428.74 418.13,428.98 418.80,429.21 C419.47,429.44 420.13,429.66 420.80,429.88 C421.47,430.10 422.13,430.32 422.80,430.52 C423.47,430.73 424.13,430.94 424.80,431.14 C425.47,431.33 426.13,431.53 426.80,431.72 C427.47,431.91 428.13,432.09 428.80,432.27 C429.47,432.45 430.13,432.62 430.80,432.79 C431.47,432.96 432.13,433.13 432.80,433.29 C433.47,433.45 434.13,433.61 434.80,433.76 C435.47,433.91 436.13,434.06 436.80,434.21 C437.47,434.35 438.13,434.49 438.80,434.63 C439.47,434.76 440.13,434.90 440.80,435.02 C441.47,435.15 442.13,435.28 442.80,435.40 C443.47,435.52 444.13,435.64 444.80,435.75 C445.47,435.87 446.13,435.98 446.80,436.09 C447.47,436.19 448.13,436.30 448.80,436.40 C449.47,436.50 450.13,436.60 450.80,436.69 C451.47,436.79 452.13,436.88 452.80,436.97 C453.47,437.06 454.13,437.15 454.80,437.23 C455.47,437.31 456.13,437.40 456.80,437.47 C457.47,437.55 458.13,437.63 458.80,437.70 C459.47,437.78 460.13,437.85 460.80,437.92 C461.47,437.99 462.13,438.06 462.80,438.12 C463.47,438.19 464.13,438.25 464.80,438.31 C465.47,438.37 466.13,438.43 466.80,438.49 C467.47,438.55 468.13,438.60 468.80,438.66 C469.47,438.71 470.13,438.77 470.80,438.82 C471.47,438.87 472.13,438.92 472.80,438.97 C473.47,439.02 474.13,439.07 474.80,439.11 C475.47,439.16 476.13,439.21 476.80,439.25 C477.47,439.29 478.13,439.34 478.80,439.38 C479.47,439.42 480.13,439.47 480.80,439.51 C481.47,439.55 482.13,439.59 482.80,439.63 C483.47,439.67 484.13,439.71 484.80,439.75 C485.47,439.79 486.13,439.83 486.80,439.87 C487.47,439.91 488.13,439.95 488.80,439.99 C489.47,440.03 490.13,440.07 490.80,440.11 C491.47,440.15 492.13,440.19 492.80,440.23 C493.47,440.26 494.13,440.30 494.80,440.34 C495.47,440.38 496.13,440.42 496.80,440.46 C497.47,440.50 498.13,440.54 498.80,440.58 C499.47,440.62 500.13,440.66 500.80,440.70 C501.47,440.74 502.13,440.78 502.80,440.82 C503.47,440.86 504.13,440.90 504.80,440.94 C505.47,440.97 506.13,441.01 506.80,441.05 C507.47,441.09 508.13,441.13 508.80,441.17 C509.47,441.21 510.13,441.25 510.80,441.29 C511.47,441.33 512.13,441.37 512.80,441.40 C513.47,441.44 514.13,441.48 514.80,441.52 C515.47,441.56 516.13,441.60 516.80,441.64 C517.47,441.68 518.13,441.71 518.80,441.75 C519.47,441.79 520.13,441.83 520.80,441.87 C521.47,441.90 522.13,441.94 522.80,441.98 C523.47,442.02 524.13,442.06 524.80,442.09 C525.47,442.13 526.13,442.17 526.80,442.21 C527.47,442.24 528.13,442.28 528.80,442.32 C529.47,442.35 530.13,442.39 530.80,442.43 C531.47,442.46 532.13,442.50 532.80,442.53 C533.47,442.57 534.13,442.61 534.80,442.64 C535.47,442.68 536.13,442.71 536.80,442.75 C537.47,442.78 538.13,442.82 538.80,442.85 C539.47,442.89 540.13,442.92 540.80,442.96 C541.47,442.99 542.13,443.03 542.80,443.06 C543.47,443.09 544.13,443.13 544.80,443.16 C545.47,443.20 546.13,443.23 546.80,443.26 C547.47,443.29 548.13,443.33 548.80,443.36 C549.47,443.39 550.13,443.42 550.80,443.46 C551.47,443.49 552.13,443.52 552.80,443.55 C553.47,443.58 554.13,443.61 554.80,443.64 C555.47,443.67 556.13,443.70 556.80,443.73 C557.47,443.76 558.13,443.79 558.80,443.82 C559.47,443.85 560.13,443.88 560.80,443.91 C561.47,443.94 562.13,443.97 562.80,443.99 C563.47,444.02 564.13,444.05 564.80,444.08 C565.47,444.10 566.13,444.13 566.80,444.16 C567.47,444.18 568.13,444.21 568.80,444.23 C569.47,444.26 570.13,444.29 570.80,444.31 C571.47,444.34 572.13,444.36 572.80,444.38 C573.47,444.41 574.13,444.43 574.80,444.45 C575.47,444.48 576.13,444.50 576.80,444.52 C577.47,444.55 578.13,444.57 578.80,444.59 C579.47,444.61 580.13,444.63 580.80,444.65 C581.47,444.67 582.13,444.69 582.80,444.71 C583.47,444.73 584.13,444.75 584.80,444.77 C585.47,444.79 586.13,444.81 586.80,444.82 C587.47,444.84 588.13,444.86 588.80,444.88 C589.47,444.89 590.13,444.91 590.80,444.92 C591.47,444.94 592.13,444.96 592.80,444.97 C593.47,444.99 594.13,445.00 594.80,445.01 C595.47,445.03 596.13,445.04 596.80,445.05 C597.47,445.07 598.13,445.08 598.80,445.09 C599.47,445.10 600.13,445.11 600.80,445.12 C601.47,445.13 602.13,445.14 602.80,445.15 C603.47,445.16 604.13,445.17 604.80,445.18 C605.47,445.18 606.13,445.19 606.80,445.20 C607.47,445.21 608.13,445.21 608.80,445.22 C609.47,445.22 610.13,445.23 610.80,445.23 C611.47,445.24 612.13,445.24 612.80,445.24 C613.47,445.25 614.13,445.25 614.80,445.25 C615.47,445.25 616.13,445.26 616.80,445.26 C617.47,445.26 618.13,445.26 618.80,445.26 C619.47,445.26 620.13,445.25 620.80,445.25 C621.47,445.25 622.13,445.25 622.80,445.24 C623.47,445.24 624.13,445.24 624.80,445.23 C625.47,445.23 626.13,445.22 626.80,445.22 C627.47,445.21 628.13,445.20 628.80,445.19 C629.47,445.19 630.13,445.18 630.80,445.17 C631.47,445.16 632.13,445.15 632.80,445.14 C633.47,445.13 634.13,445.12 634.80,445.11 C635.47,445.09 636.13,445.08 636.80,445.07 C637.47,445.05 638.13,445.04 638.80,445.03 C639.47,445.01 640.13,444.99 640.80,444.98 C641.47,444.96 642.13,444.94 642.80,444.93 C643.47,444.91 644.40,444.88 644.80,444.87 C645.20,444.86 645.13,444.86 645.20,444.86" fill="none" stroke="#F14040" stroke-width="3.55" stroke-linejoin="round"/>
<line x1="102.7" y1="13.8" x2="102.7" y2="452.2" stroke="#000" stroke-width="2.6"/>
<line x1="101.4" y1="450.9" x2="647" y2="450.9" stroke="#000" stroke-width="2.6"/>
<line x1="94.1" y1="450.9" x2="102.7" y2="450.9" stroke="#000" stroke-width="2.6"/>
<line x1="98.1" y1="396.425" x2="102.7" y2="396.425" stroke="#000" stroke-width="2.6"/>
<line x1="94.1" y1="341.95" x2="102.7" y2="341.95" stroke="#000" stroke-width="2.6"/>
<line x1="98.1" y1="287.475" x2="102.7" y2="287.475" stroke="#000" stroke-width="2.6"/>
<line x1="94.1" y1="233" x2="102.7" y2="233" stroke="#000" stroke-width="2.6"/>
<line x1="98.1" y1="178.525" x2="102.7" y2="178.525" stroke="#000" stroke-width="2.6"/>
<line x1="94.1" y1="124.05" x2="102.7" y2="124.05" stroke="#000" stroke-width="2.6"/>
<line x1="98.1" y1="69.575" x2="102.7" y2="69.575" stroke="#000" stroke-width="2.6"/>
<line x1="94.1" y1="15.1" x2="102.7" y2="15.1" stroke="#000" stroke-width="2.6"/>
<line x1="102.7" y1="450.9" x2="102.7" y2="459.5" stroke="#000" stroke-width="2.6"/>
<line x1="193.117" y1="450.9" x2="193.117" y2="455.5" stroke="#000" stroke-width="2.6"/>
<line x1="283.533" y1="450.9" x2="283.533" y2="459.5" stroke="#000" stroke-width="2.6"/>
<line x1="373.95" y1="450.9" x2="373.95" y2="455.5" stroke="#000" stroke-width="2.6"/>
<line x1="464.367" y1="450.9" x2="464.367" y2="459.5" stroke="#000" stroke-width="2.6"/>
<line x1="554.783" y1="450.9" x2="554.783" y2="455.5" stroke="#000" stroke-width="2.6"/>
<line x1="645.2" y1="450.9" x2="645.2" y2="459.5" stroke="#000" stroke-width="2.6"/>
<text transform="translate(88.4,23) scale(1,1.04)" text-anchor="end" class="b">2,0</text>
<text transform="translate(88.4,131.95) scale(1,1.04)" text-anchor="end" class="b">,5</text>
<path transform="translate(51.29,131.95) scale(0.013037,-0.013037)" d="M806 0H525V1059Q371 915 162 846V1101Q272 1137 401 1237.5T578 1472H806Z" fill="#000"/>
<text transform="translate(88.4,240.9) scale(1,1.04)" text-anchor="end" class="b">,0</text>
<path transform="translate(51.29,240.90) scale(0.013037,-0.013037)" d="M806 0H525V1059Q371 915 162 846V1101Q272 1137 401 1237.5T578 1472H806Z" fill="#000"/>
<text transform="translate(88.4,349.85) scale(1,1.04)" text-anchor="end" class="b">0,5</text>
<text transform="translate(88.4,458.8) scale(1,1.04)" text-anchor="end" class="b">0,0</text>
<text transform="translate(103.1,486.7) scale(1,1.04)" text-anchor="middle" class="b">250</text>
<text transform="translate(283.933,486.7) scale(1,1.04)" text-anchor="middle" class="b">300</text>
<text transform="translate(464.767,486.7) scale(1,1.04)" text-anchor="middle" class="b">350</text>
<text x="373.6" y="534.0" text-anchor="middle" class="t">wavelength / nm</text>
<text transform="translate(25,235.6) rotate(-90)" text-anchor="middle" class="ty">absorbance</text>
<text transform="translate(445.2,170.5) scale(1,1.07)" class="n">3</text>
<text transform="translate(413.3,316.0) scale(1,1.07)" class="n">2</text>
<path transform="translate(393.35,416.9) scale(0.010986,-0.010986)" d="M763 0H583V1147Q518 1085 412.5 1023T223 930V1104Q373 1174.5 485 1275T644 1466H763Z" fill="#000"/>
</svg></body></html>
